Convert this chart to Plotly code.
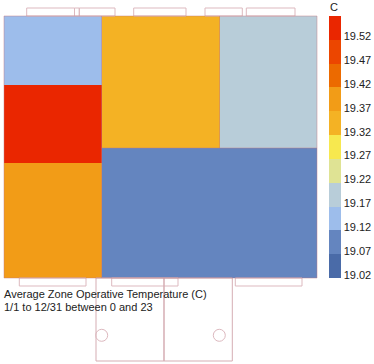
import plotly.graph_objects as go

# Plan coordinates (same scale as the figure's pixels)
x_edges = [4, 101.5, 219.5, 317]
y_edges = [16, 85, 148, 163, 278]
temps = [
    [19.12, 19.32, 19.17],
    [19.52, 19.32, 19.17],
    [19.52, 19.07, 19.07],
    [19.37, 19.07, 19.07],
]
band_values = [19.02, 19.07, 19.12, 19.17, 19.22, 19.27, 19.32, 19.37, 19.42, 19.47, 19.52]
band_colors = ["#4A6BA8", "#6485BF", "#9DBDEB", "#B8CDD9", "#DFE394", "#F7E84F",
               "#F4B224", "#F29C17", "#EC6A00", "#EC4600", "#EA2600"]
z_min, z_max = 19.013, 19.563

# Zone outlines
top_rooms = [(26.7, 74.5), (74.5, 79.3), (79.3, 115), (133.7, 186), (205, 242.3), (246.3, 295)]
bottom_rooms = [(19.3, 86), (111.7, 178), (235.3, 302)]
wings = [(96, 164), (164, 232.3)]
circles = [(101.7, 335.3), (219.3, 335.3)]
partitions = [(101.5, 16, 101.5, 278), (219.5, 16, 219.5, 148), (101.5, 148, 317, 148)]
title_lines = ["Average Zone Operative Temperature (C)", "1/1 to 12/31 between 0 and 23"]
title_y = [293.8, 306.5]
legend_title = "C"

n = len(band_colors)
scale = []
for i, c in enumerate(band_colors):
    scale += [[i / n, c], [(i + 1) / n, c]]

fig = go.Figure(go.Heatmap(
    x=x_edges, y=y_edges, z=temps, zmin=z_min, zmax=z_max, colorscale=scale,
    hoverinfo="skip",
    colorbar=dict(
        thickness=12, thicknessmode="pixels", len=262, lenmode="pixels",
        x=329.3 / 374, xanchor="left", xref="paper",
        y=1 - 278 / 364, yanchor="bottom", yref="paper",
        xpad=0, ypad=0, outlinewidth=0, ticks="", ticklen=0,
        tickvals=band_values, ticktext=[f"{v:.2f}" for v in band_values],
        tickfont=dict(family="Liberation Sans", size=11, color="#222"),
    ),
))

line = dict(color="#DDB9BF", width=1)
overlay = dict(color="rgba(190,120,130,0.45)", width=1)
shapes = []
for a, b in top_rooms:
    shapes.append(dict(type="rect", x0=a, x1=b, y0=8, y1=16, line=line))
for a, b in bottom_rooms:
    shapes.append(dict(type="rect", x0=a, x1=b, y0=278, y1=286, line=line))
for a, b in wings:
    shapes.append(dict(type="rect", x0=a, x1=b, y0=278, y1=361, line=dict(color="#D5ADB3", width=1)))
for cx, cy in circles:
    shapes.append(dict(type="circle", x0=cx - 6, x1=cx + 6, y0=cy - 6, y1=cy + 6, line=line))
for x0, y0, x1, y1 in partitions:
    shapes.append(dict(type="line", x0=x0, y0=y0, x1=x1, y1=y1, line=overlay))
shapes.append(dict(type="rect", x0=x_edges[0], x1=x_edges[-1], y0=y_edges[0], y1=y_edges[-1],
                   line=overlay))

annotations = [
    dict(x=x_edges[0], y=yy, text=t, showarrow=False, xanchor="left", yanchor="middle", xshift=-2,
         font=dict(family="Liberation Sans", size=11, color="#222"))
    for t, yy in zip(title_lines, title_y)
]
annotations.append(dict(x=329.5, y=7, text=legend_title, showarrow=False, xanchor="left", yanchor="middle",
                        xshift=-2, font=dict(family="Liberation Sans", size=11, color="#222")))

fig.update_layout(
    width=374, height=364, margin=dict(l=0, r=0, t=0, b=0),
    paper_bgcolor="white", plot_bgcolor="rgba(0,0,0,0)",
    xaxis=dict(range=[0, 374], visible=False, fixedrange=True),
    yaxis=dict(range=[364, 0], visible=False, fixedrange=True),
    shapes=shapes, annotations=annotations,
)
fig.write_html("out.html", config=dict(displayModeBar=False),
               post_script="document.body.style.margin='0';document.body.style.overflow='hidden';")
